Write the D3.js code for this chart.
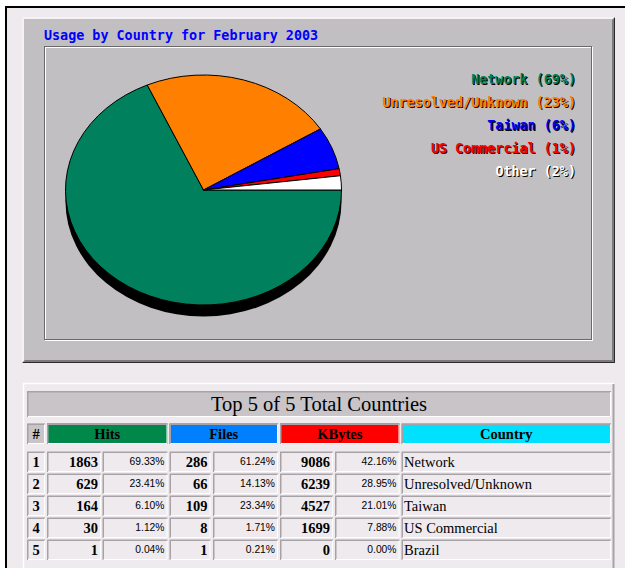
<!DOCTYPE html>
<html>
<head>
<meta charset="utf-8">
<script src="https://cdn.jsdelivr.net/npm/d3@7"></script>
<style>
  html, body { margin: 0; padding: 0; background: #ffffff; overflow: hidden; }
  svg { display: block; }
</style>
</head>
<body>
<svg id="page" width="625" height="568"></svg>
<script>
// ---- Pie chart data (hits by country, percent of total) ----
const chartTitle = "Usage by Country for February 2003";
const pieLabels = ["Network", "Unresolved/Unknown", "Taiwan", "US Commercial", "Other"];
const piePercents = [69, 23, 6, 1, 2];
const pieColors = ["#00805c", "#ff8000", "#0000ff", "#ff0000", "#ffffff"];

// ---- Table data ----
const tableTitle = "Top 5 of 5 Total Countries";
const headerLabels = ["#", "Hits", "Files", "KBytes", "Country"];
const headerColors = ["#c8c4c8", "#00884a", "#0080ff", "#ff0000", "#00e0ff"];
const ranks = [1, 2, 3, 4, 5];
const countries = ["Network", "Unresolved/Unknown", "Taiwan", "US Commercial", "Brazil"];
const hits = [1863, 629, 164, 30, 1];
const hitsPct = [69.33, 23.41, 6.10, 1.12, 0.04];
const files = [286, 66, 109, 8, 1];
const filesPct = [61.24, 14.13, 23.34, 1.71, 0.21];
const kbytes = [9086, 6239, 4527, 1699, 0];
const kbytesPct = [42.16, 28.95, 21.01, 7.88, 0.00];

const svg = d3.select("#page");
const BG = "#eeeaee";
const MONO = "'DejaVu Sans Mono', 'Liberation Mono', monospace";
const SERIF = "'Liberation Serif', 'Times New Roman', serif";
const SANS = "'Liberation Sans', Arial, sans-serif";

// page background and black frame
svg.append("rect").attr("x", 0).attr("y", 0).attr("width", 625).attr("height", 568).attr("fill", "#ffffff");
svg.append("rect").attr("x", 6).attr("y", 7).attr("width", 619).attr("height", 561).attr("fill", BG);
svg.append("path").attr("d", "M6,568 V7 H625").attr("fill", "none")
  .attr("stroke", "#000").attr("stroke-width", 2);

// ---- chart panel with bevelled edges ----
const P = { x0: 22, y0: 17, x1: 615, y1: 363 };
const panel = svg.append("g");
panel.append("rect").attr("x", P.x0).attr("y", P.y0)
  .attr("width", P.x1 - P.x0).attr("height", P.y1 - P.y0).attr("fill", "#c1bfc1");
panel.append("polygon")
  .attr("points", [[P.x0, P.y0], [P.x1, P.y0], [P.x1 - 2, P.y0 + 2], [P.x0 + 2, P.y0 + 2], [P.x0 + 2, P.y1 - 2], [P.x0, P.y1]].join(" "))
  .attr("fill", "#f4f2f4");
panel.append("polygon")
  .attr("points", [[P.x1, P.y0], [P.x1, P.y1], [P.x0, P.y1], [P.x0 + 3, P.y1 - 3], [P.x1 - 3, P.y1 - 3], [P.x1 - 3, P.y0 + 3]].join(" "))
  .attr("fill", "#7c7a7c");
panel.append("path").attr("d", `M${P.x1 - 0.5},${P.y0 + 1} V${P.y1 - 0.5} H${P.x0 + 1}`)
  .attr("fill", "none").attr("stroke", "#2a2a2a").attr("stroke-width", 1);

// inner sunken frame
const I = { x0: 44.5, y0: 46.5, x1: 591.5, y1: 339.5 };
panel.append("rect").attr("x", I.x0 + 1).attr("y", I.y0 + 1)
  .attr("width", I.x1 - I.x0).attr("height", I.y1 - I.y0)
  .attr("fill", "none").attr("stroke", "#ffffff");
panel.append("rect").attr("x", I.x0).attr("y", I.y0)
  .attr("width", I.x1 - I.x0).attr("height", I.y1 - I.y0)
  .attr("fill", "none").attr("stroke", "#6a686a");

// title
panel.append("text").attr("x", 44).attr("y", 39.5)
  .attr("font-family", MONO).attr("font-weight", "bold").attr("font-size", 13.4)
  .attr("fill", "#0000ff").text(chartTitle);

// ---- pie ----
const cx = 203.5, cy = 190, rx = 138, ry = 115, depth = 11.5;
const pieGen = d3.pie().sort(null).value(d => d)
  .startAngle(Math.PI / 2).endAngle(Math.PI / 2 + 2 * Math.PI);
const arcGen = d3.arc().innerRadius(0).outerRadius(rx);

// shadow / depth
panel.append("ellipse").attr("cx", cx).attr("cy", cy + depth)
  .attr("rx", rx).attr("ry", ry).attr("fill", "#000");

const pieG = panel.append("g")
  .attr("transform", `translate(${cx},${cy}) scale(1,${ry / rx})`);
pieG.selectAll("path.slice")
  .data(pieGen(piePercents))
  .join("path")
  .attr("class", "slice")
  .attr("d", arcGen)
  .attr("fill", (d, i) => pieColors[i])
  .attr("stroke", "#000")
  .attr("stroke-width", 1)
  .attr("vector-effect", "non-scaling-stroke");

// legend (text with dark drop shadow)
const legend = panel.append("g").attr("font-family", MONO)
  .attr("font-weight", "bold").attr("font-size", 13.4).attr("text-anchor", "end");
pieLabels.forEach((lab, i) => {
  const txt = `${lab} (${piePercents[i]}%)`;
  const y = 84 + i * 23;
  legend.append("text").attr("x", 577).attr("y", y + 1).attr("fill", "#000").text(txt);
  legend.append("text").attr("x", 576).attr("y", y).attr("fill", pieColors[i]).text(txt);
});

// ---- table ----
const tbl = svg.append("g");
// outer raised table border
tbl.append("path").attr("d", "M23.5,568 V383.5 H614").attr("fill", "none")
  .attr("stroke", "#ffffff").attr("stroke-width", 1.5);
tbl.append("path").attr("d", "M613.5,384 V568").attr("fill", "none")
  .attr("stroke", "#a6a2a6").attr("stroke-width", 2);

function cell(x0, y0, x1, y1, fill) {
  tbl.append("rect").attr("x", x0).attr("y", y0)
    .attr("width", x1 - x0).attr("height", y1 - y0).attr("fill", fill);
  tbl.append("path").attr("d", `M${x0 + 0.75},${y1} V${y0 + 0.75} H${x1}`)
    .attr("fill", "none").attr("stroke", "#a6a2a6").attr("stroke-width", 1.5);
  tbl.append("path").attr("d", `M${x1 - 0.5},${y0 + 1} V${y1 - 0.5} H${x0 + 1}`)
    .attr("fill", "none").attr("stroke", "#ffffff").attr("stroke-width", 1);
}

// title bar
cell(27, 391, 611, 417, "#c8c4c8");
tbl.append("text").attr("x", 319).attr("y", 411)
  .attr("text-anchor", "middle").attr("font-family", SERIF)
  .attr("font-size", 20.5).attr("fill", "#000").text(tableTitle);

// header row
const headerBoxes = [[27, 45], [47, 167.5], [169.5, 278], [280, 399.5], [401.5, 611]];
headerLabels.forEach((lab, i) => {
  const [a, b] = headerBoxes[i];
  cell(a, 423.5, b, 444, headerColors[i]);
  tbl.append("text").attr("x", (a + b) / 2).attr("y", 439)
    .attr("text-anchor", "middle").attr("font-family", SERIF)
    .attr("font-weight", "bold").attr("font-size", 14.5).attr("fill", "#000").text(lab);
});

// data rows
const rowY = d3.scaleBand().domain(ranks).range([451.5, 561.5]).paddingInner(0);
const pctFmt = v => d3.format(".2f")(v) + "%";
const colBoxes = [[27, 45], [47, 101], [102.5, 167.5], [169.5, 210.5], [213, 278], [280, 333], [335, 399.5], [401.5, 611]];
const columns = [
  { values: ranks, fmt: d => d, anchor: "middle", font: SERIF, weight: "bold", size: 14.5 },
  { values: hits, fmt: d => d, anchor: "end", font: SERIF, weight: "bold", size: 14.5 },
  { values: hitsPct, fmt: pctFmt, anchor: "end", font: SANS, weight: "normal", size: 10.3 },
  { values: files, fmt: d => d, anchor: "end", font: SERIF, weight: "bold", size: 14.5 },
  { values: filesPct, fmt: pctFmt, anchor: "end", font: SANS, weight: "normal", size: 10.3 },
  { values: kbytes, fmt: d => d, anchor: "end", font: SERIF, weight: "bold", size: 14.5 },
  { values: kbytesPct, fmt: pctFmt, anchor: "end", font: SANS, weight: "normal", size: 10.3 },
  { values: countries, fmt: d => d, anchor: "start", font: SERIF, weight: "normal", size: 14.5 }
];

ranks.forEach((r, ri) => {
  const y0 = rowY(r);
  const y1 = y0 + rowY.bandwidth() - 1.5;
  columns.forEach((col, ci) => {
    const [a, b] = colBoxes[ci];
    cell(a, y0, b, y1, BG);
    const x = col.anchor === "middle" ? (a + b) / 2 : col.anchor === "end" ? b - 3 : a + 2.5;
    const base = col.font === SANS ? y0 + 13.6 : y0 + 15;
    tbl.append("text").attr("x", x).attr("y", base)
      .attr("text-anchor", col.anchor).attr("font-family", col.font)
      .attr("font-weight", col.weight).attr("font-size", col.size)
      .attr("fill", "#000").text(col.fmt(col.values[ri]));
  });
});
</script>
</body>
</html>
